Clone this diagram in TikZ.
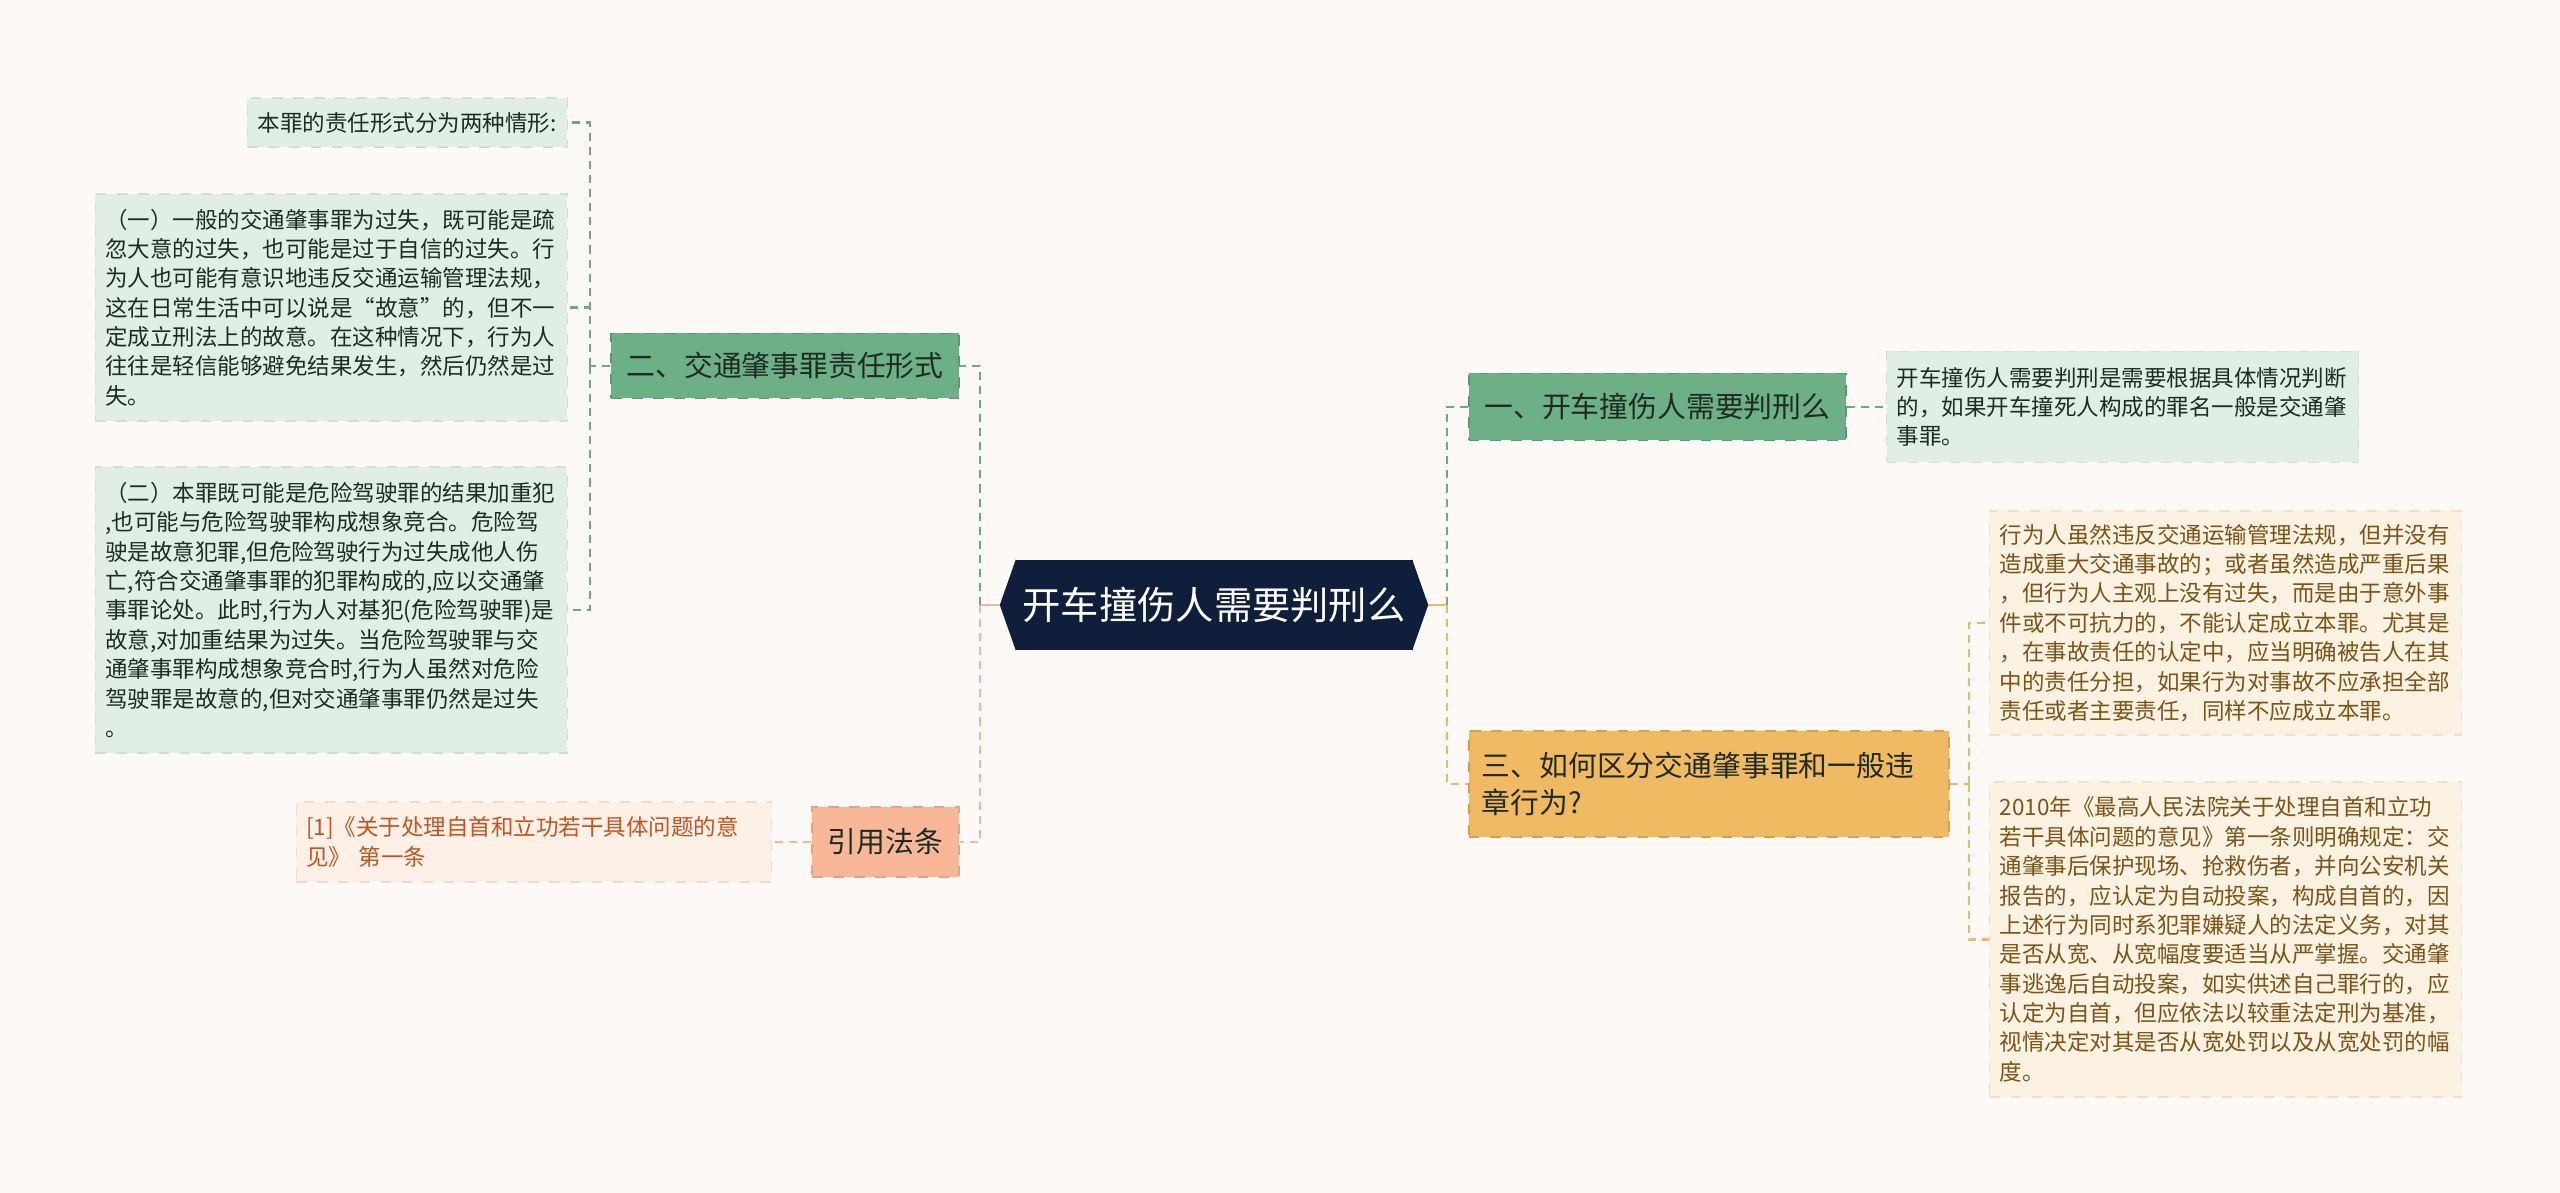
\documentclass[tikz,border=0pt]{standalone}
\usepackage{fontspec}
\setmainfont{Noto Sans CJK SC}
\usepackage{xcolor}
\usepackage{tikz}
\usetikzlibrary{positioning,calc}

\definecolor{bgcol}{HTML}{FCF9F7}
\definecolor{rootcol}{HTML}{0F1F3B}
\definecolor{darktxt}{HTML}{1E2B23}
\definecolor{gtop}{HTML}{6DAF87}
\definecolor{gtopdraw}{HTML}{5A9A73}
\definecolor{gleaf}{HTML}{E0EEE6}
\definecolor{gleafdraw}{HTML}{CCE2D4}
\definecolor{gline}{HTML}{6EA886}
\definecolor{ptop}{HTML}{F8B898}
\definecolor{ptopdraw}{HTML}{E9A27F}
\definecolor{pleaf}{HTML}{FDF0E6}
\definecolor{pleafdraw}{HTML}{F3DCCB}
\definecolor{ptxt}{HTML}{C2551F}
\definecolor{pline}{HTML}{F2B89A}
\definecolor{ytop}{HTML}{F0BA62}
\definecolor{ytopdraw}{HTML}{D9A24A}
\definecolor{yleaf}{HTML}{FCF2E2}
\definecolor{yleafdraw}{HTML}{F0E0C4}
\definecolor{ytxt}{HTML}{7B5418}
\definecolor{yline}{HTML}{E8BA6A}

\begin{document}
\begin{tikzpicture}[
  rootbox/.style={rectangle, fill=rootcol, text=white, font=\fontsize{10.9}{13}\selectfont,
                  minimum width=3.97cm, minimum height=0.9cm, inner sep=0pt},
  topic/.style={rectangle, dashed, line width=0.5pt, text=darktxt,
                font=\fontsize{8.2}{10.6}\selectfont, inner sep=0pt},
  gtopic/.style={topic, fill=gtop, draw=gtopdraw},
  ptopic/.style={topic, fill=ptop, draw=ptopdraw},
  ytopic/.style={topic, fill=ytop, draw=ytopdraw},
  leaf/.style={rectangle, dashed, line width=0.4pt, align=left,
               font=\fontsize{6.4}{8.36}\selectfont, inner xsep=0.1cm, inner ysep=0pt},
  wide/.style={text width=4.52cm},
  gleafbox/.style={leaf, fill=gleaf, draw=gleafdraw, text=darktxt},
  pleafbox/.style={leaf, fill=pleaf, draw=pleafdraw, text=ptxt},
  yleafbox/.style={leaf, fill=yleaf, draw=yleafdraw, text=ytxt},
  conn/.style={line width=0.7pt, dash pattern=on 2.3pt off 1.7pt},
  gconn/.style={conn, draw=gline},
  pconn/.style={conn, draw=pline},
  yconn/.style={conn, draw=yline}
]
\useasboundingbox[fill=bgcol] (0,0) rectangle (25.6,-11.93);

% centre
\node[rootbox] (root) at (12.14,-6.05) {开车撞伤人需要判刑么};
\coordinate (rootW) at ([xshift=-1.5mm]root.west);
\coordinate (rootE) at ([xshift=1.5mm]root.east);
\fill[rootcol] ([xshift=0.3pt]root.north west) -- (rootW) -- ([xshift=0.3pt]root.south west) -- cycle;
\fill[rootcol] ([xshift=-0.3pt]root.north east) -- (rootE) -- ([xshift=-0.3pt]root.south east) -- cycle;

% left side
\node[gtopic, anchor=east, minimum width=3.48cm, minimum height=0.65cm] (sec2) at (9.60,-3.66)
  {二、交通肇事罪责任形式};
\node[ptopic, anchor=east, minimum width=1.47cm, minimum height=0.70cm] (cite) at (9.60,-8.42)
  {引用法条};

\node[gleafbox, anchor=east, minimum width=3.20cm, minimum height=0.49cm] (l0) at (5.68,-1.225)
  {本罪的责任形式分为两种情形:};
\node[gleafbox, wide, anchor=east, minimum height=2.27cm] (l1) at (5.68,-3.075)
  {（一）一般的交通肇事罪为过失，既可能是疏\\
   忽大意的过失，也可能是过于自信的过失。行\\
   为人也可能有意识地违反交通运输管理法规，\\
   这在日常生活中可以说是“故意”的，但不一\\
   定成立刑法上的故意。在这种情况下，行为人\\
   往往是轻信能够避免结果发生，然后仍然是过\\
   失。};
\node[gleafbox, wide, anchor=east, minimum height=2.86cm] (l2) at (5.68,-6.10)
  {（二）本罪既可能是危险驾驶罪的结果加重犯\\
   ,也可能与危险驾驶罪构成想象竞合。危险驾\\
   驶是故意犯罪,但危险驾驶行为过失成他人伤\\
   亡,符合交通肇事罪的犯罪构成的,应以交通肇\\
   事罪论处。此时,行为人对基犯(危险驾驶罪)是\\
   故意,对加重结果为过失。当危险驾驶罪与交\\
   通肇事罪构成想象竞合时,行为人虽然对危险\\
   驾驶罪是故意的,但对交通肇事罪仍然是过失\\
   。};
\node[pleafbox, text width=4.55cm, anchor=east, minimum height=0.80cm] (law) at (7.72,-8.42)
  {[1]《关于处理自首和立功若干具体问题的意\\
   见》 第一条};

% right side
\node[gtopic, anchor=west, minimum width=3.77cm, minimum height=0.67cm] (sec1) at (14.68,-4.07)
  {一、开车撞伤人需要判刑么};
\node[ytopic, anchor=west, align=left, text width=4.54cm, inner xsep=0.13cm,
      minimum height=1.06cm] (sec3) at (14.68,-7.84)
  {三、如何区分交通肇事罪和一般违\\章行为?};

\node[gleafbox, wide, anchor=west, minimum height=1.11cm] (r1) at (18.86,-4.07)
  {开车撞伤人需要判刑是需要根据具体情况判断\\
   的，如果开车撞死人构成的罪名一般是交通肇\\
   事罪。};
\node[yleafbox, wide, anchor=west, minimum height=2.24cm] (r31) at (19.89,-6.23)
  {行为人虽然违反交通运输管理法规，但并没有\\
   造成重大交通事故的；或者虽然造成严重后果\\
   ，但行为人主观上没有过失，而是由于意外事\\
   件或不可抗力的，不能认定成立本罪。尤其是\\
   ，在事故责任的认定中，应当明确被告人在其\\
   中的责任分担，如果行为对事故不应承担全部\\
   责任或者主要责任，同样不应成立本罪。};
\node[yleafbox, wide, anchor=west, minimum height=3.15cm] (r32) at (19.89,-9.395)
  {2010年《最高人民法院关于处理自首和立功\\
   若干具体问题的意见》第一条则明确规定：交\\
   通肇事后保护现场、抢救伤者，并向公安机关\\
   报告的，应认定为自动投案，构成自首的，因\\
   上述行为同时系犯罪嫌疑人的法定义务，对其\\
   是否从宽、从宽幅度要适当从严掌握。交通肇\\
   事逃逸后自动投案，如实供述自己罪行的，应\\
   认定为自首，但应依法以较重法定刑为基准，\\
   视情决定对其是否从宽处罚以及从宽处罚的幅\\
   度。};

% connectors
\coordinate (trL) at (9.80,-6.05);
\coordinate (trR) at (14.47,-6.05);
\coordinate (tr2) at (5.90,-3.66);
\coordinate (tr3) at (19.69,-7.84);

\draw[pconn, solid] (rootW) -- (trL);
\draw[gconn] (trL) |- (sec2.east);
\draw[pconn] (trL) |- (cite.east);
\draw[yconn, solid] (rootE) -- (trR);
\draw[gconn] (trR) |- (sec1.west);
\draw[yconn] (trR) |- (sec3.west);

\draw[gconn] (sec2.west) -- (tr2);
\draw[gconn] (tr2) |- (l0.east);
\draw[gconn] (tr2) |- (l1.east);
\draw[gconn] (tr2) |- (l2.east);
\draw[pconn] (cite.west) -- (law.east);

\draw[gconn] (sec1.east) -- (r1.west);
\draw[yconn] (sec3.east) -- (tr3);
\draw[yconn] (tr3) |- (r31.west);
\draw[yconn] (tr3) |- (r32.west);
\end{tikzpicture}
\end{document}
